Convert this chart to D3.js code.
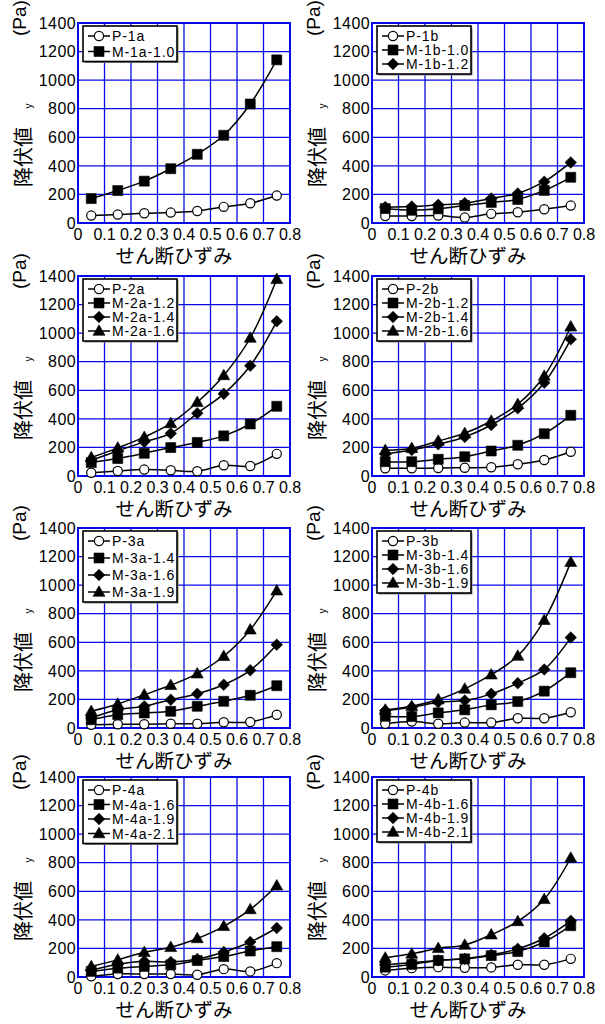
<!DOCTYPE html>
<html><head><meta charset="utf-8">
<script src="https://cdn.jsdelivr.net/npm/d3@7"></script>
<style>
html,body{margin:0;padding:0;background:#fff;}
svg{display:block;}
text{font-family:"Liberation Sans",Arial,sans-serif;fill:#000;}
.jp{font-family:"Noto Sans CJK JP","Noto Sans CJK SC",sans-serif;}
</style></head>
<body>
<script>
// ---- data ----
const xValues = [0.05, 0.15, 0.25, 0.35, 0.45, 0.55, 0.65, 0.75];
const xTicks = [0, 0.1, 0.2, 0.3, 0.4, 0.5, 0.6, 0.7, 0.8];
const xTickLabels = ["0", "0.1", "0.2", "0.3", "0.4", "0.5", "0.6", "0.7", "0.8"];
const yTicks = [0, 200, 400, 600, 800, 1000, 1200, 1400];
const yTickLabels = ["0", "200", "400", "600", "800", "1000", "1200", "1400"];
const xTitle = "せん断ひずみ";
const yTitle = "降伏値";
const ySub = "y";
const yUnit = "(Pa)";

const p1a = [52, 59, 68, 73, 84, 113, 138, 192];
const m1a10 = [171, 227, 293, 380, 481, 614, 833, 1142];

const p1b = [49, 49, 52, 38, 64, 75, 96, 122];
const m1b10 = [101, 89, 99, 122, 144, 165, 228, 320];
const m1b12 = [111, 115, 127, 139, 172, 207, 289, 424];

const p2a = [23, 35, 45, 40, 33, 75, 70, 155];
const m2a12 = [94, 122, 159, 199, 235, 281, 364, 488];
const m2a14 = [110, 176, 239, 298, 439, 575, 772, 1083];
const m2a16 = [129, 197, 272, 368, 516, 704, 966, 1377];

const p2b = [54, 54, 56, 58, 61, 82, 112, 170];
const m2b12 = [100, 100, 117, 135, 175, 215, 296, 425];
const m2b14 = [154, 182, 222, 273, 357, 474, 653, 957];
const m2b16 = [180, 194, 245, 299, 385, 502, 700, 1045];

const p3a = [23, 26, 26, 30, 30, 40, 42, 93];
const m3a14 = [58, 93, 105, 117, 152, 187, 229, 296];
const m3a16 = [70, 128, 152, 198, 240, 303, 404, 583];
const m3a19 = [117, 168, 233, 299, 380, 502, 688, 961];

const p3b = [30, 45, 30, 38, 38, 68, 68, 110];
const m3b14 = [82, 80, 106, 127, 162, 185, 258, 387];
const m3b16 = [122, 145, 181, 192, 239, 314, 410, 633];
const m3b19 = [127, 152, 199, 274, 373, 504, 755, 1161];

const p4a = [5, 21, 21, 21, 16, 55, 39, 97];
const m4a16 = [39, 62, 74, 85, 115, 143, 182, 212];
const m4a19 = [48, 90, 110, 105, 125, 175, 245, 343];
const m4a21 = [74, 120, 173, 208, 270, 355, 473, 639];

const p4b = [46, 62, 69, 65, 67, 86, 86, 127];
const m4b16 = [69, 88, 116, 127, 150, 178, 245, 359];
const m4b19 = [86, 100, 116, 127, 155, 197, 271, 393];
const m4b21 = [134, 162, 201, 224, 296, 389, 544, 833];

const legend1a = ["P-1a", "M-1a-1.0"];
const legend1b = ["P-1b", "M-1b-1.0", "M-1b-1.2"];
const legend2a = ["P-2a", "M-2a-1.2", "M-2a-1.4", "M-2a-1.6"];
const legend2b = ["P-2b", "M-2b-1.2", "M-2b-1.4", "M-2b-1.6"];
const legend3a = ["P-3a", "M-3a-1.4", "M-3a-1.6", "M-3a-1.9"];
const legend3b = ["P-3b", "M-3b-1.4", "M-3b-1.6", "M-3b-1.9"];
const legend4a = ["P-4a", "M-4a-1.6", "M-4a-1.9", "M-4a-2.1"];
const legend4b = ["P-4b", "M-4b-1.6", "M-4b-1.9", "M-4b-2.1"];

const markerShapes = ["circle", "square", "diamond", "triangle"];

// ---- panel table built from the arrays ----
const panels = [
  {names: legend1a, values: [p1a, m1a10]},
  {names: legend1b, values: [p1b, m1b10, m1b12]},
  {names: legend2a, values: [p2a, m2a12, m2a14, m2a16]},
  {names: legend2b, values: [p2b, m2b12, m2b14, m2b16]},
  {names: legend3a, values: [p3a, m3a14, m3a16, m3a19]},
  {names: legend3b, values: [p3b, m3b14, m3b16, m3b19]},
  {names: legend4a, values: [p4a, m4a16, m4a19, m4a21]},
  {names: legend4b, values: [p4b, m4b16, m4b19, m4b21]}
];

// ---- layout ----
const W = 605, H = 1024;
const colLeft = [78, 372], plotW = 212;
const rowTop = [23, 276, 528, 777], plotH = 200;
const legendGap = [15.5, 14, 14, 14, 17, 14, 14.5, 14];
const gridColor = "#0a0ae6";

const svg = d3.select("body").append("svg").attr("width", W).attr("height", H);

const markerPath = {
  square: "M-5,-5H5V5H-5Z",
  diamond: "M0,-5.8L5.8,0L0,5.8L-5.8,0Z",
  triangle: "M0,-6.2L6,4.3L-6,4.3Z"
};
function drawMarker(g, shape, x, y) {
  if (shape === "circle") {
    g.append("circle").attr("cx", x).attr("cy", y).attr("r", 4.6)
      .attr("fill", "#fff").attr("stroke", "#000").attr("stroke-width", 1.2);
  } else {
    g.append("path").attr("d", markerPath[shape]).attr("transform", `translate(${x},${y})`)
      .attr("fill", "#000").attr("stroke", "#000").attr("stroke-width", 0.6);
  }
}

panels.forEach((p, i) => {
  const col = i % 2, row = Math.floor(i / 2);
  const left = colLeft[col], top = rowTop[row];
  const x = d3.scaleLinear().domain([0, 0.8]).range([left, left + plotW]);
  const y = d3.scaleLinear().domain([0, 1400]).range([top + plotH, top]);
  const g = svg.append("g");

  // grid
  g.selectAll(".vg").data(xTicks).enter().append("line")
    .attr("x1", d => x(d)).attr("x2", d => x(d)).attr("y1", top).attr("y2", top + plotH)
    .attr("stroke", gridColor).attr("stroke-width", 1.3);
  g.selectAll(".hg").data(yTicks).enter().append("line")
    .attr("y1", d => y(d)).attr("y2", d => y(d)).attr("x1", left).attr("x2", left + plotW)
    .attr("stroke", gridColor).attr("stroke-width", 1.3);
  g.append("rect").attr("x", left).attr("y", top).attr("width", plotW).attr("height", plotH)
    .attr("fill", "none").attr("stroke", gridColor).attr("stroke-width", 2);

  // tick labels
  g.selectAll(".xt").data(xTicks).enter().append("text")
    .attr("x", d => x(d)).attr("y", top + plotH + 16.5).attr("text-anchor", "middle")
    .attr("font-size", 16).text((d, k) => xTickLabels[k]);
  g.selectAll(".yt").data(yTicks).enter().append("text")
    .attr("x", left - 2).attr("y", d => y(d) + 5.7).attr("text-anchor", "end")
    .attr("font-size", 16).attr("letter-spacing", 0.4).text((d, k) => yTickLabels[k]);

  // axis titles
  g.append("text").attr("class", "jp").attr("x", left + 96).attr("y", top + plotH + 40)
    .attr("text-anchor", "middle").attr("font-size", 19.5).text(xTitle);
  g.append("text").attr("class", "jp").attr("text-anchor", "middle").attr("font-size", 20)
    .attr("transform", `translate(${left - 47},${top + 134}) rotate(-90)`).text(yTitle);
  g.append("text").attr("text-anchor", "middle").attr("font-size", 10)
    .attr("transform", `translate(${left - 46},${top + 83}) rotate(-90)`).text(ySub);
  g.append("text").attr("text-anchor", "middle").attr("font-size", 19)
    .attr("transform", `translate(${left - 52},${top - 5}) rotate(-90)`).text(yUnit);

  // lines
  const line = d3.line().x((d, k) => x(xValues[k])).y(d => y(d)).curve(d3.curveCatmullRom.alpha(0.5));
  p.values.forEach(vals => {
    g.append("path").attr("d", line(vals)).attr("fill", "none")
      .attr("stroke", "#000").attr("stroke-width", 1.5);
  });
  // markers
  p.values.forEach((vals, s) => {
    vals.forEach((v, k) => drawMarker(g, markerShapes[s], x(xValues[k]), y(v)));
  });

  // legend
  const gap = legendGap[i], n = p.names.length;
  const lx = left + 5, ly = top + 3, lw = 94, lh = 20 + (n - 1) * gap;
  g.append("rect").attr("x", lx + 1.5).attr("y", ly + 1.5).attr("width", lw).attr("height", lh)
    .attr("fill", "#888");
  g.append("rect").attr("x", lx).attr("y", ly).attr("width", lw).attr("height", lh)
    .attr("fill", "#fff").attr("stroke", "#000").attr("stroke-width", 1.6);
  p.names.forEach((name, s) => {
    const cy = ly + 10 + s * gap;
    g.append("line").attr("x1", lx + 5).attr("x2", lx + 27).attr("y1", cy).attr("y2", cy)
      .attr("stroke", "#000").attr("stroke-width", 1.5);
    drawMarker(g, markerShapes[s], lx + 16, cy);
    g.append("text").attr("x", lx + 29).attr("y", cy + 5).attr("font-size", 14)
      .attr("letter-spacing", 0.9).text(name);
  });
});
</script>
</body></html>
